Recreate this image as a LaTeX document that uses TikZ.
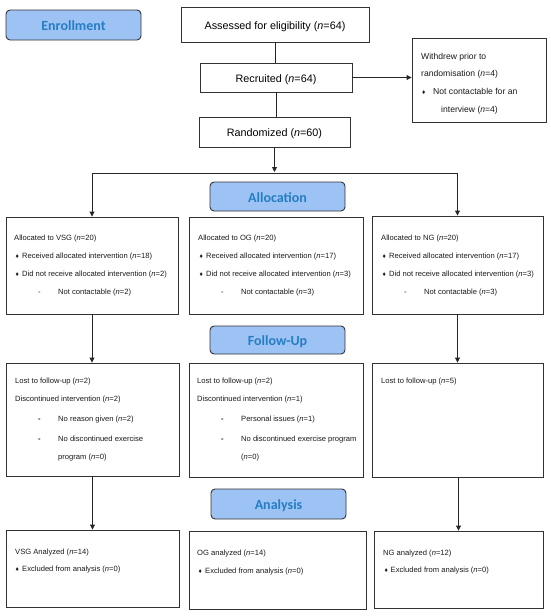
\documentclass[tikz,border=0pt]{standalone}
\usepackage{fontspec}
\setmainfont{Liberation Sans}
\newfontfamily\hdrfont{Carlito}
\usetikzlibrary{arrows.meta}
\definecolor{hdrfill}{RGB}{157,195,245}
\definecolor{hdrtext}{RGB}{38,125,195}
\definecolor{edge}{RGB}{50,50,50}
\newcommand{\mybul}[1][6pt]{\makebox[#1][l]{\fontsize{6.5}{6.5}\selectfont ♦}}
\newcommand{\mydash}{\makebox[20pt][l]{-}}
\newcommand{\mybdash}{\makebox[20pt][l]{\textbf{-}}}
\begin{document}
\begin{tikzpicture}[x=1pt,y=-1pt,
  box/.style={draw=edge, line width=0.9pt, inner sep=0pt},
  hdr/.style={draw=edge, line width=0.9pt, fill=hdrfill, rounded corners=4pt, inner sep=0pt,
    font=\hdrfont\bfseries\fontsize{14}{14}\selectfont, text=hdrtext,
    minimum width=135pt, text height=11.6pt, text depth=0pt},
  big/.style={box, font=\fontsize{10.8}{12}\selectfont, text height=9.6pt, text depth=0pt},
  txt/.style={anchor=base west, inner sep=0pt, font=\fontsize{7.6}{9}\selectfont, text=black!90},
  wtxt/.style={txt, font=\fontsize{8.6}{10}\selectfont},
  line/.style={draw=black!85, line width=0.9pt},
  arr/.style={line, -{Triangle[width=5pt,length=5pt]}},
]
\useasboundingbox (0,0) rectangle (550,616);

% headers
\node[hdr, minimum height=30pt] (enroll) at (73.5,25) {Enrollment};
\node[hdr, minimum height=29pt] (allochdr) at (277.5,196.5) {Allocation};
\node[hdr, minimum height=28pt] (fuhdr) at (277.5,340) {Follow-Up};
\node[hdr, minimum height=30pt] (anhdr) at (278.5,504) {Analysis};

% enrollment boxes
\node[big, minimum width=188pt, minimum height=35pt] (assess) at (275,24.5) {Assessed for eligibility (\textit{n}=64)};
\node[big, minimum width=152pt, minimum height=29pt] (recruit) at (276,77.5) {Recruited (\textit{n}=64)};
\node[big, minimum width=151pt, minimum height=30pt] (random) at (274.5,132) {Randomized (\textit{n}=60)};
\node[box, minimum width=134pt, minimum height=84pt] (withdrew) at (479,80) {};
\node[wtxt] (w1) at (421,59.1) {Withdrew prior to};
\node[wtxt] (w2) at (421,76.1) {randomisation (\textit{n}=4)};
\node[wtxt] (w3) at (422,94.1) {\mybul[11pt]Not contactable for an};
\node[wtxt] (w4) at (441,112.1) {interview (\textit{n}=4)};

% allocation boxes
\node[box, minimum width=172pt, minimum height=97pt] (vsgA) at (92,265.5) {};
\node[box, minimum width=174pt, minimum height=97pt] (ogA) at (276,265.5) {};
\node[box, minimum width=171pt, minimum height=98pt] (ngA) at (457.5,265) {};

\node[txt] (a1) at (14,240.8) {Allocated to VSG (\textit{n}=20)};
\node[txt] (a2) at (15.5,258.8) {\mybul[6.5pt]Received allocated intervention (\textit{n}=18)};
\node[txt] (a3) at (15.5,276.8) {\mybul[6.5pt]Did not receive allocated intervention (\textit{n}=2)};
\node[txt] (a4) at (38,294.8) {\mydash Not contactable (\textit{n}=2)};

\node[txt] (b1) at (198,240.8) {Allocated to OG (\textit{n}=20)};
\node[txt] (b2) at (199.5,258.8) {\mybul[6.5pt]Received allocated intervention (\textit{n}=17)};
\node[txt] (b3) at (199.5,276.8) {\mybul[6.5pt]Did not receive allocated intervention (\textit{n}=3)};
\node[txt] (b4) at (221,294.8) {\mydash Not contactable (\textit{n}=3)};

\node[txt] (c1) at (381,240.8) {Allocated to NG (\textit{n}=20)};
\node[txt] (c2) at (382.5,258.8) {\mybul[6.5pt]Received allocated intervention (\textit{n}=17)};
\node[txt] (c3) at (382.5,276.8) {\mybul[6.5pt]Did not receive allocated intervention (\textit{n}=3)};
\node[txt] (c4) at (404,294.8) {\mydash Not contactable (\textit{n}=3)};

% follow-up boxes
\node[box, minimum width=173pt, minimum height=113pt] (vsgF) at (92.5,419.5) {};
\node[box, minimum width=174pt, minimum height=114pt] (ogF) at (276,420) {};
\node[box, minimum width=171pt, minimum height=114pt] (ngF) at (457.5,420) {};

\node[txt] (d1) at (15,383.8) {Lost to follow-up (\textit{n}=2)};
\node[txt] (d2) at (15,401.8) {Discontinued intervention (\textit{n}=2)};
\node[txt] (d3) at (38,421.8) {\mybdash No reason given (\textit{n}=2)};
\node[txt] (d4) at (38,441.8) {\mybdash No discontinued exercise};
\node[txt] (d5) at (58,459.8) {program (\textit{n}=0)};

\node[txt] (e1) at (197,383.8) {Lost to follow-up (\textit{n}=2)};
\node[txt] (e2) at (197,401.8) {Discontinued intervention (\textit{n}=1)};
\node[txt] (e3) at (221,421.8) {\mybdash Personal issues (\textit{n}=1)};
\node[txt] (e4) at (221,441.8) {\mybdash No discontinued exercise program};
\node[txt] (e5) at (241,459.8) {(\textit{n}=0)};

\node[txt] (f1) at (381,383.8) {Lost to follow-up (\textit{n}=5)};

% analysis boxes
\node[box, minimum width=173pt, minimum height=77pt] (vsgN) at (92.5,568.5) {};
\node[box, minimum width=177pt, minimum height=78pt] (ogN) at (277.5,570) {};
\node[box, minimum width=169pt, minimum height=77pt] (ngN) at (458.5,569.5) {};

\node[txt] (g1) at (15,554.8) {VSG Analyzed (\textit{n}=14)};
\node[txt] (g2) at (15.5,571.8) {\mybul[6.5pt]Excluded from analysis (\textit{n}=0)};
\node[txt] (h1) at (197,555.8) {OG analyzed (\textit{n}=14)};
\node[txt] (h2) at (198.5,573.8) {\mybul[6.5pt]Excluded from analysis (\textit{n}=0)};
\node[txt] (i1) at (383,555.8) {NG analyzed (\textit{n}=12)};
\node[txt] (i2) at (384.5,572.8) {\mybul[6pt]Excluded from analysis (\textit{n}=0)};

% connectors
\draw[line] (assess.south) -- (assess.south |- recruit.north);
\draw[line] (recruit.south) -- (recruit.south |- random.north);
\draw[arr] (recruit.east) -- (recruit.east -| withdrew.west);
\coordinate (split) at (274.5,173);
\draw[arr, shorten >=1pt] (random.south) -- (split);
\draw[arr] (split) -| (vsgA.north);
\draw[arr] (split) -| (ngA.north);
\draw[arr] (vsgA.south) -- (vsgA.south |- vsgF.north);
\draw[arr] (ngA.south) -- (ngA.south |- ngF.north);
\draw[arr] (vsgF.south) -- (vsgF.south |- vsgN.north);
\draw[arr] (ngN.north |- ngF.south) -- (ngN.north);
\end{tikzpicture}
\end{document}
